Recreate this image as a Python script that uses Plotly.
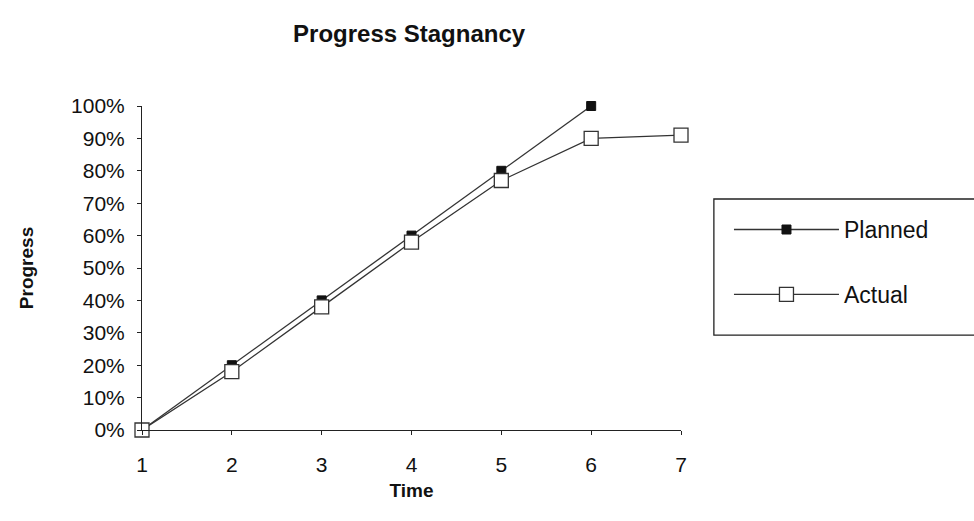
import plotly.graph_objects as go

time = [1, 2, 3, 4, 5, 6, 7]
planned_x = [1, 2, 3, 4, 5, 6]
planned = [0.0, 0.20, 0.40, 0.60, 0.80, 1.00]
actual = [0.0, 0.18, 0.38, 0.58, 0.77, 0.90, 0.91]
y_ticks = [i / 10 for i in range(11)]
y_labels = [f"{i*10}%" for i in range(11)]

FONT = "Liberation Sans, Arial, sans-serif"

fig = go.Figure()
fig.add_trace(go.Scatter(
    x=planned_x, y=planned, name="Planned", mode="lines+markers",
    line=dict(color="#333333", width=1.3),
    marker=dict(symbol="square", size=9, color="#111111", line=dict(color="#111111", width=1)),
    cliponaxis=False, legendgroup="p",
))
fig.add_trace(go.Scatter(
    x=time, y=actual, name="Actual", mode="lines+markers",
    line=dict(color="#333333", width=1.3),
    marker=dict(symbol="square", size=14, color="white", line=dict(color="#333333", width=1.3)),
    cliponaxis=False, legendgroup="a",
))

# legend frame (extends past the right edge, as in the reference)
fig.add_shape(type="rect", xref="paper", yref="paper",
              x0=1.061, x1=1.62, y0=0.293, y1=0.713,
              line=dict(color="#222222", width=1.3), fillcolor="rgba(0,0,0,0)")

fig.update_layout(
    width=974, height=521,
    margin=dict(l=142, r=293, t=106, b=91),
    paper_bgcolor="white", plot_bgcolor="white",
    font=dict(family=FONT, color="#111111", size=21),
    title=dict(text="<b>Progress Stagnancy</b>", x=0.42, xanchor="center", y=0.935, yanchor="middle",
               font=dict(size=24, family=FONT)),
    showlegend=True,
    legend=dict(x=1.089, y=0.685, xanchor="left", yanchor="top",
                borderwidth=0, bgcolor="rgba(0,0,0,0)",
                font=dict(size=23, family=FONT),
                traceorder="grouped", tracegroupgap=32, itemwidth=105),
)
fig.update_xaxes(
    range=[1, 7], tickvals=time, ticktext=[str(t) for t in time],
    showline=True, linecolor="#222222", linewidth=1, showgrid=False, zeroline=False,
    ticks="outside", ticklen=4, tickcolor="#222222", ticklabelstandoff=12,
    title=dict(text="<b>Time</b>", font=dict(size=19, family=FONT), standoff=8),
)
fig.update_yaxes(
    range=[0, 1], tickvals=y_ticks, ticktext=y_labels,
    showline=True, linecolor="#222222", linewidth=1, showgrid=False, zeroline=False,
    ticks="outside", ticklen=4, tickcolor="#222222", ticklabelstandoff=8,
    title=dict(text="<b>Progress</b>", font=dict(size=19, family=FONT), standoff=32),
)
fig.write_html("out.html")
